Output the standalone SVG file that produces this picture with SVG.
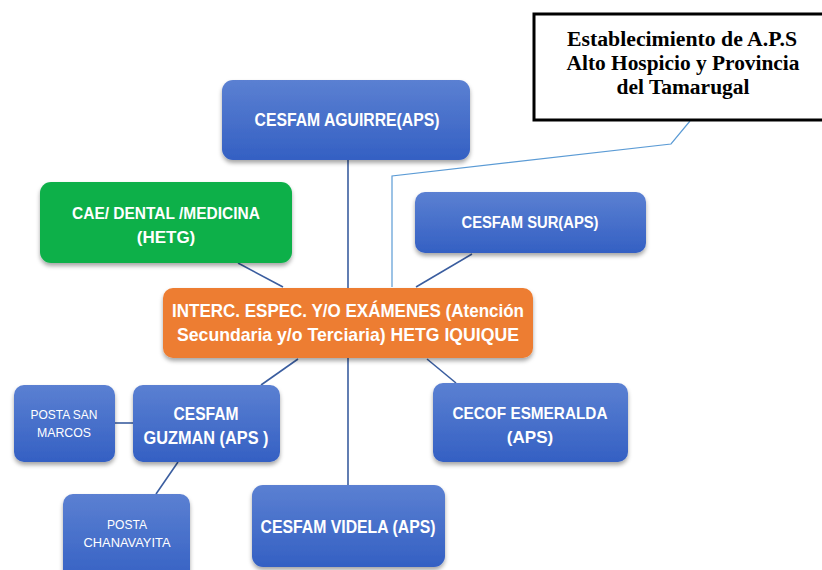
<svg xmlns="http://www.w3.org/2000/svg" width="822" height="570" viewBox="0 0 822 570">
<defs>
<linearGradient id="gb" x1="0" y1="0" x2="0" y2="1">
<stop offset="0" stop-color="#5b80d2"/>
<stop offset="1" stop-color="#3460c3"/>
</linearGradient>
<filter id="sh" x="-10%" y="-10%" width="120%" height="130%">
<feDropShadow dx="0" dy="3" stdDeviation="2" flood-color="#000" flood-opacity="0.35"/>
</filter>
<style>
.b{fill:url(#gb);filter:url(#sh)}
.g{fill:#0cb04a;filter:url(#sh)}
.o{fill:#ed7d31;filter:url(#sh)}
.t{font-family:"Liberation Sans","Open Sans",sans-serif;font-weight:bold;fill:#fff;text-anchor:middle}
.s{font-family:"Liberation Sans","Open Sans",sans-serif;fill:#fff;text-anchor:middle}
.c{stroke:#3a5d9f;stroke-width:1.6;fill:none}
.ct{font-family:"Liberation Serif","Times New Roman",serif;font-weight:bold;font-size:20px;fill:#000;text-anchor:middle}
</style>
</defs>
<rect width="822" height="570" fill="#fff"/>
<g id="connectors">
<line class="c" x1="348" y1="160" x2="348" y2="288"/>
<line class="c" x1="238" y1="263" x2="283" y2="287"/>
<line class="c" x1="472" y1="254" x2="416" y2="287"/>
<line class="c" x1="298" y1="359" x2="261" y2="385"/>
<line class="c" x1="348" y1="358" x2="348" y2="485"/>
<line class="c" x1="427" y1="359" x2="456" y2="383"/>
<line class="c" x1="115" y1="423" x2="133" y2="423"/>
<line class="c" x1="178" y1="462" x2="156" y2="494"/>
<polyline points="392,287 392,176 671,144 690,121" fill="none" stroke="#5b9bd5" stroke-width="1.2"/>
</g>
<g id="callout">
<rect x="534" y="14" width="300" height="106" fill="#fff" stroke="#000" stroke-width="3"/>
<text class="ct" x="682" y="46" textLength="230" lengthAdjust="spacingAndGlyphs">Establecimiento de A.P.S</text>
<text class="ct" x="683" y="70" textLength="233" lengthAdjust="spacingAndGlyphs">Alto Hospicio y Provincia</text>
<text class="ct" x="683" y="94" textLength="133" lengthAdjust="spacingAndGlyphs">del Tamarugal</text>
</g>
<g id="aguirre">
<rect class="b" x="222" y="80" width="248" height="80" rx="11"/>
<text class="t" x="347" y="126" font-size="18" textLength="185" lengthAdjust="spacingAndGlyphs">CESFAM AGUIRRE(APS)</text>
</g>
<g id="cae">
<rect class="g" x="40" y="182" width="252" height="81" rx="11"/>
<text class="t" x="166" y="219" font-size="17" textLength="188" lengthAdjust="spacingAndGlyphs">CAE/ DENTAL /MEDICINA</text>
<text class="t" x="166" y="243" font-size="17">(HETG)</text>
</g>
<g id="sur">
<rect class="b" x="415" y="192" width="231" height="61" rx="10"/>
<text class="t" x="530" y="228" font-size="16" textLength="137" lengthAdjust="spacingAndGlyphs">CESFAM SUR(APS)</text>
</g>
<g id="center">
<rect class="o" x="163" y="288" width="370" height="70" rx="10"/>
<text class="t" x="348" y="317" font-size="19" textLength="352" lengthAdjust="spacingAndGlyphs">INTERC. ESPEC. Y/O EXÁMENES (Atención</text>
<text class="t" x="348" y="341" font-size="19" textLength="342" lengthAdjust="spacingAndGlyphs">Secundaria y/o Terciaria) HETG IQUIQUE</text>
</g>
<g id="sanmarcos">
<rect class="b" x="14" y="385" width="101" height="77" rx="10"/>
<text class="s" x="64" y="419" font-size="12" textLength="67" lengthAdjust="spacingAndGlyphs">POSTA SAN</text>
<text class="s" x="64" y="437" font-size="12" textLength="54" lengthAdjust="spacingAndGlyphs">MARCOS</text>
</g>
<g id="guzman">
<rect class="b" x="133" y="385" width="147" height="77" rx="10"/>
<text class="t" x="206" y="420" font-size="18" textLength="65" lengthAdjust="spacingAndGlyphs">CESFAM</text>
<text class="t" x="206" y="444" font-size="18" textLength="125" lengthAdjust="spacingAndGlyphs">GUZMAN (APS )</text>
</g>
<g id="esmeralda">
<rect class="b" x="433" y="383" width="195" height="79" rx="10"/>
<text class="t" x="530" y="419" font-size="17" textLength="155" lengthAdjust="spacingAndGlyphs">CECOF ESMERALDA</text>
<text class="t" x="530" y="443" font-size="17">(APS)</text>
</g>
<g id="chanavayita">
<rect class="b" x="63" y="494" width="127" height="90" rx="10"/>
<text class="s" x="127" y="529" font-size="12.5" textLength="40" lengthAdjust="spacingAndGlyphs">POSTA</text>
<text class="s" x="127" y="547" font-size="12.5" textLength="87" lengthAdjust="spacingAndGlyphs">CHANAVAYITA</text>
</g>
<g id="videla">
<rect class="b" x="252" y="485" width="193" height="82" rx="11"/>
<text class="t" x="348" y="533" font-size="18" textLength="175" lengthAdjust="spacingAndGlyphs">CESFAM VIDELA (APS)</text>
</g>
</svg>
